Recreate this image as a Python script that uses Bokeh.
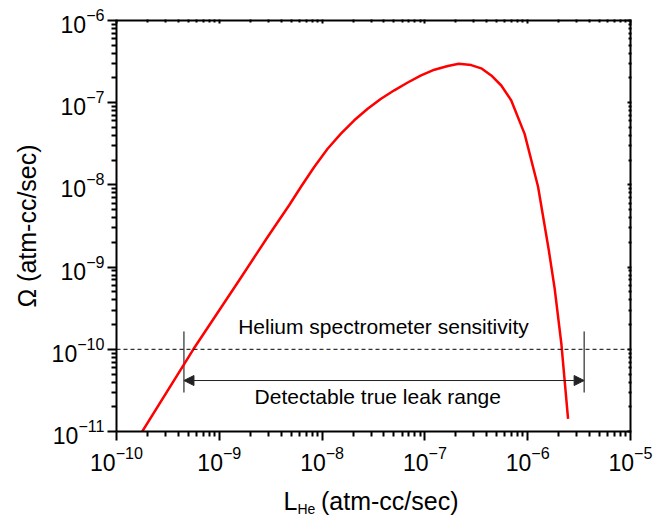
from bokeh.plotting import figure
from bokeh.layouts import column
from bokeh.models import (Range1d, FixedTicker, LogAxis, Label, Span, Arrow,
                          NormalHead, CustomJSTickFormatter, LogTickFormatter)
from bokeh.embed import file_html
from bokeh.resources import INLINE

# ---- data ----
L_he = [1.78e-10, 5.59e-10, 1.556e-9, 2.94e-9, 4.78e-9, 6.21e-9, 8.38e-9, 1.131e-8,
        1.525e-8, 2.055e-8, 2.776e-8, 3.742e-8, 5.04e-8, 6.81e-8, 9.18e-8, 1.238e-7,
        1.672e-7, 2.14e-7, 2.82e-7, 3.53e-7, 4.42e-7, 5.53e-7, 6.92e-7, 9.33e-7,
        1.26e-6, 1.606e-6, 1.829e-6, 2.126e-6, 2.47e-6]
omega = [1.0e-11, 1.0e-10, 6.87e-10, 2.31e-9, 5.65e-9, 9.43e-9, 1.651e-8, 2.756e-8,
         4.196e-8, 6.105e-8, 8.45e-8, 1.119e-7, 1.415e-7, 1.761e-7, 2.154e-7, 2.521e-7,
         2.795e-7, 2.97e-7, 2.867e-7, 2.62e-7, 2.143e-7, 1.619e-7, 1.064e-7, 4.18e-8,
         9.56e-9, 1.592e-9, 5.49e-10, 1.166e-10, 1.427e-11]

x_exps = [-10, -9, -8, -7, -6, -5]
y_exps = [-11, -10, -9, -8, -7, -6]

sensitivity = 1e-10
range_x = [4.53e-10, 3.54e-6]
range_bar_y = [1.65e-10, 2.98e-11]
arrow_y = 4.17e-11

text_sens = "Helium spectrometer sensitivity"
text_sens_pos = (3.95e-8, 1.545e-10)
text_range = "Detectable true leak range"
text_range_pos = (3.48e-8, 2.21e-11)

y_title = "Ω (atm-cc/sec)"
x_title_main = "L"
x_title_sub = "He"
x_title_unit = "(atm-cc/sec)"

FONT = "Liberation Sans"
W = 661

p = figure(width=W, height=482, x_axis_type="log", y_axis_type="log",
           x_range=Range1d(1e-10, 1e-5), y_range=Range1d(1e-11, 1e-6),
           output_backend="svg", toolbar_location=None,
           min_border_left=116, min_border_right=31, min_border_top=20,
           min_border_bottom=51)
p.outline_line_color = None
p.grid.visible = False
p.background_fill_color = "white"
p.border_fill_color = "white"


def minors(exps):
    return [m * 10.0 ** e for e in exps[:-1] for m in range(2, 10)]


x_ticks = [10.0 ** e for e in x_exps]
y_ticks = [10.0 ** e for e in y_exps]


def style(ax, ticks, mticks, tin, tout, mtin, mtout, labels):
    ax.ticker = FixedTicker(ticks=ticks, minor_ticks=mticks)
    if labels:
        ax.formatter = LogTickFormatter()
        ax.major_label_text_font = FONT
        ax.major_label_text_font_size = "23px"
        ax.major_label_text_color = "black"
    else:
        ax.formatter = CustomJSTickFormatter(code="return ''")
    ax.axis_line_color = "black"
    ax.axis_line_width = 2
    ax.major_tick_line_color = "black"
    ax.minor_tick_line_color = "black"
    ax.major_tick_line_width = 2
    ax.minor_tick_line_width = 2
    ax.major_tick_in = tin
    ax.major_tick_out = tout
    ax.minor_tick_in = mtin
    ax.minor_tick_out = mtout


style(p.xaxis[0], x_ticks, minors(x_exps), 0, 9, 0, 5, True)
style(p.yaxis[0], y_ticks, minors(y_exps), 0, 9, 0, 5, True)
p.xaxis[0].major_label_standoff = 5
p.yaxis[0].major_label_standoff = 3
p.yaxis[0].axis_label = y_title
p.yaxis[0].axis_label_text_font = FONT
p.yaxis[0].axis_label_text_font_size = "25px"
p.yaxis[0].axis_label_text_font_style = "normal"
p.yaxis[0].axis_label_text_color = "black"
p.yaxis[0].axis_label_standoff = 8

top = LogAxis()
right = LogAxis()
p.add_layout(top, "above")
p.add_layout(right, "right")
style(top, x_ticks, minors(x_exps), 3, 1, 2, 1, False)
style(right, y_ticks, minors(y_exps), 3, 1, 2, 1, False)
top.major_label_standoff = 0
right.major_label_standoff = 0

# ---- marks ----
p.add_layout(Span(location=sensitivity, dimension="width", line_color="black",
                  line_width=1, line_dash="4 3"))
p.segment(x0=range_x, y0=[range_bar_y[0]] * 2, x1=range_x, y1=[range_bar_y[1]] * 2,
          line_color="black", line_width=1)
p.add_layout(Arrow(start=NormalHead(size=10, fill_color="#222222", line_color="#222222"),
                   end=NormalHead(size=10, fill_color="#222222", line_color="#222222"),
                   x_start=range_x[0], y_start=arrow_y, x_end=range_x[1], y_end=arrow_y,
                   line_color="#222222", line_width=1))
p.line(L_he, omega, line_color="#ff0000", line_width=2.5, line_join="round")

p.add_layout(Label(x=text_sens_pos[0], y=text_sens_pos[1], y_offset=7, text=text_sens,
                   text_align="center", text_baseline="alphabetic",
                   text_font=FONT, text_font_size="21px", text_color="black"))
p.add_layout(Label(x=text_range_pos[0], y=text_range_pos[1], y_offset=7, text=text_range,
                   text_align="center", text_baseline="alphabetic",
                   text_font=FONT, text_font_size="21px", text_color="black"))

# ---- strip below for the x-axis title (with subscript) ----
p2 = figure(width=W, height=518 - 482, x_axis_type="log", x_range=p.x_range,
            y_range=Range1d(0, 1), x_axis_location=None, y_axis_location=None,
            output_backend="svg", toolbar_location=None,
            min_border_left=116, min_border_right=31, min_border_top=0,
            min_border_bottom=0)
p2.outline_line_color = None
p2.grid.visible = False
p2.border_fill_color = "white"
p2.add_layout(Label(x=1e-10, y=0, x_offset=167, y_offset=17.7, text=x_title_main,
                    text_align="left", text_baseline="alphabetic",
                    text_font=FONT, text_font_size="25px", text_color="black"))
p2.add_layout(Label(x=1e-10, y=0, x_offset=181, y_offset=9.5, text=x_title_sub,
                    text_align="left", text_baseline="alphabetic",
                    text_font=FONT, text_font_size="14px", text_color="black"))
p2.add_layout(Label(x=1e-10, y=0, x_offset=204.5, y_offset=17.7, text=x_title_unit,
                    text_align="left", text_baseline="alphabetic",
                    text_font=FONT, text_font_size="25px", text_color="black"))

layout = column(p, p2, spacing=0)
open("out.html", "w").write(file_html(layout, INLINE))
